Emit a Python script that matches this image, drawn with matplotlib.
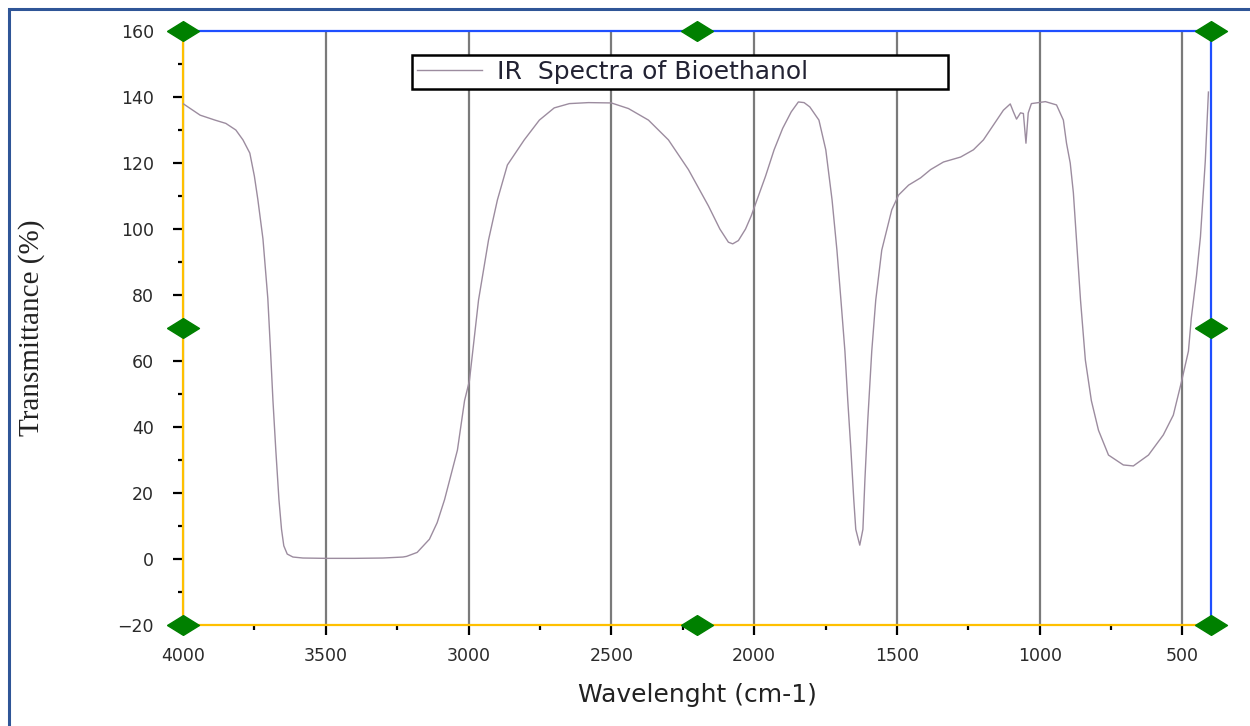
import matplotlib
matplotlib.use("Agg")
import matplotlib.pyplot as plt
from matplotlib.ticker import MultipleLocator
from matplotlib.patches import Rectangle

# IR spectrum (wavenumber in cm-1, transmittance in %)
wavenumber = [4000, 3940, 3888, 3850, 3815, 3790, 3766, 3750, 3738, 3720, 3703, 3694,
              3685, 3675, 3664, 3655, 3647, 3635, 3615, 3580, 3500, 3400, 3300, 3230,
              3217, 3180, 3137, 3110, 3084, 3039, 3014, 2997, 2965, 2930, 2899, 2864,
              2805, 2752, 2700, 2647, 2580, 2500, 2440, 2370, 2300, 2230, 2160, 2120,
              2090, 2075, 2055, 2030, 2010, 1985, 1960, 1930, 1900, 1870, 1845, 1825,
              1805, 1785, 1773, 1749, 1727, 1710, 1696, 1682, 1672, 1661, 1651, 1644,
              1630, 1619, 1612, 1602, 1588, 1574, 1553, 1518, 1494, 1459, 1417, 1382,
              1337, 1277, 1232, 1197, 1162, 1127, 1103, 1092, 1081, 1067, 1057, 1048,
              1040, 1029, 980, 941, 917, 906, 893, 882, 871, 857, 840, 819, 794, 759,
              707, 672, 619, 567, 532, 504, 479, 469, 451, 437, 420, 409]
transmittance = [138, 134.5, 133, 132, 130, 127, 123, 116, 109, 97, 79, 64,
                 48, 33, 18, 9, 4, 1.5, 0.6, 0.3, 0.2, 0.2, 0.3, 0.6,
                 0.8, 2, 6, 11, 18, 33, 48, 54, 78.5, 96.7, 108.8, 119.4,
                 127, 133, 136.7, 138, 138.3, 138.2, 136.5, 133, 127, 118, 107, 100,
                 96, 95.5, 96.5, 100, 104, 110, 116, 124, 130.5, 135.5, 138.5, 138.3,
                 137, 134.5, 133, 124, 108.8, 93.6, 78.5, 63, 48, 33, 18, 9,
                 4.2, 9, 24, 42, 63, 78.5, 93.6, 105.8, 110.3, 113.3, 115.5, 118,
                 120.3, 121.8, 124, 127, 131.5, 136, 137.9, 135.5, 133.3, 135.2, 135, 126,
                 135.2, 138, 138.6, 137.6, 133, 126, 120, 111, 96.7, 78.5, 60.3, 48, 39, 31.5,
                 28.5, 28.2, 31.5, 37.6, 43.6, 53.5, 63, 73, 85.7, 97.6, 120.6, 141.5]

x_limits = (4000, 400)
y_limits = (-20, 160)

fig = plt.figure(figsize=(12.5, 7.26), dpi=100)
ax = fig.add_axes([0.1464, 0.1391, 0.8224, 0.8182])

ax.plot(wavenumber, transmittance, color="#9c8c9f", lw=1.0,
        label="IR  Spectra of Bioethanol", zorder=3)

ax.set_xlim(*x_limits)
ax.set_ylim(*y_limits)
ax.xaxis.set_major_locator(MultipleLocator(500))
ax.xaxis.set_minor_locator(MultipleLocator(250))
ax.yaxis.set_major_locator(MultipleLocator(20))
ax.yaxis.set_minor_locator(MultipleLocator(10))
ax.grid(axis="x", which="major", color="#7a7a7a", lw=1.6, zorder=1)

ax.tick_params(which="major", direction="out", length=7, width=1.6, color="black",
               labelsize=12.5, labelcolor="#2a2a2a")
ax.tick_params(which="minor", direction="out", length=3.5, width=1.6, color="black")
ax.tick_params(axis="x", which="major", pad=9)
ax.tick_params(axis="y", which="major", pad=14)
ax.tick_params(axis="y", which="both", right=False)
ax.tick_params(axis="x", which="both", top=False)
for lab in ax.get_xticklabels() + ax.get_yticklabels():
    lab.set_fontfamily("DejaVu Sans")

ax.spines["left"].set_color("#ffc000")
ax.spines["bottom"].set_color("#ffc000")
ax.spines["top"].set_color("#1f4fff")
ax.spines["right"].set_color("#1f4fff")
for s in ax.spines.values():
    s.set_linewidth(1.6)

# green handles at the corners and edge midpoints of the plot frame
xm = sum(x_limits) / 2
ym = sum(y_limits) / 2
hx = [x_limits[0], xm, x_limits[1], x_limits[0], x_limits[1], x_limits[0], xm, x_limits[1]]
hy = [y_limits[1], y_limits[1], y_limits[1], ym, ym, y_limits[0], y_limits[0], y_limits[0]]
diamond = [(-1, 0), (0, 0.62), (1, 0), (0, -0.62), (-1, 0)]
ax.plot(hx, hy, ls="none", marker=diamond, ms=23, color="#008000",
        clip_on=False, zorder=5)

ax.set_xlabel("Wavelenght (cm-1)", fontsize=18, family="DejaVu Sans",
              color="#222222")
ax.xaxis.set_label_coords(0.5, -0.097)
ax.set_ylabel("Transmittance (%)", fontsize=21, family="Liberation Serif",
              color="#222222")
ax.yaxis.set_label_coords(-0.134, 0.5)

# legend box stretched to the width it has in the reference
leg = ax.legend(loc="upper left", bbox_to_anchor=(0.2228, 0.8, 0.5214, 0.16),
                mode="expand", borderaxespad=0, fancybox=False, edgecolor="black",
                framealpha=1, handlelength=2.6, handletextpad=0.6, borderpad=0.2,
                prop={"family": "DejaVu Sans", "size": 18})
leg.get_frame().set_linewidth(1.8)
for t in leg.get_texts():
    t.set_color("#222233")

# outer frame around the picture
fig.patches.append(Rectangle((9 / 1250, -0.05), 1.2, 1 - 9 / 726 + 0.05,
                             transform=fig.transFigure, fill=False,
                             edgecolor="#2f5597", lw=2.2))

fig.savefig("out.png", dpi=100)
